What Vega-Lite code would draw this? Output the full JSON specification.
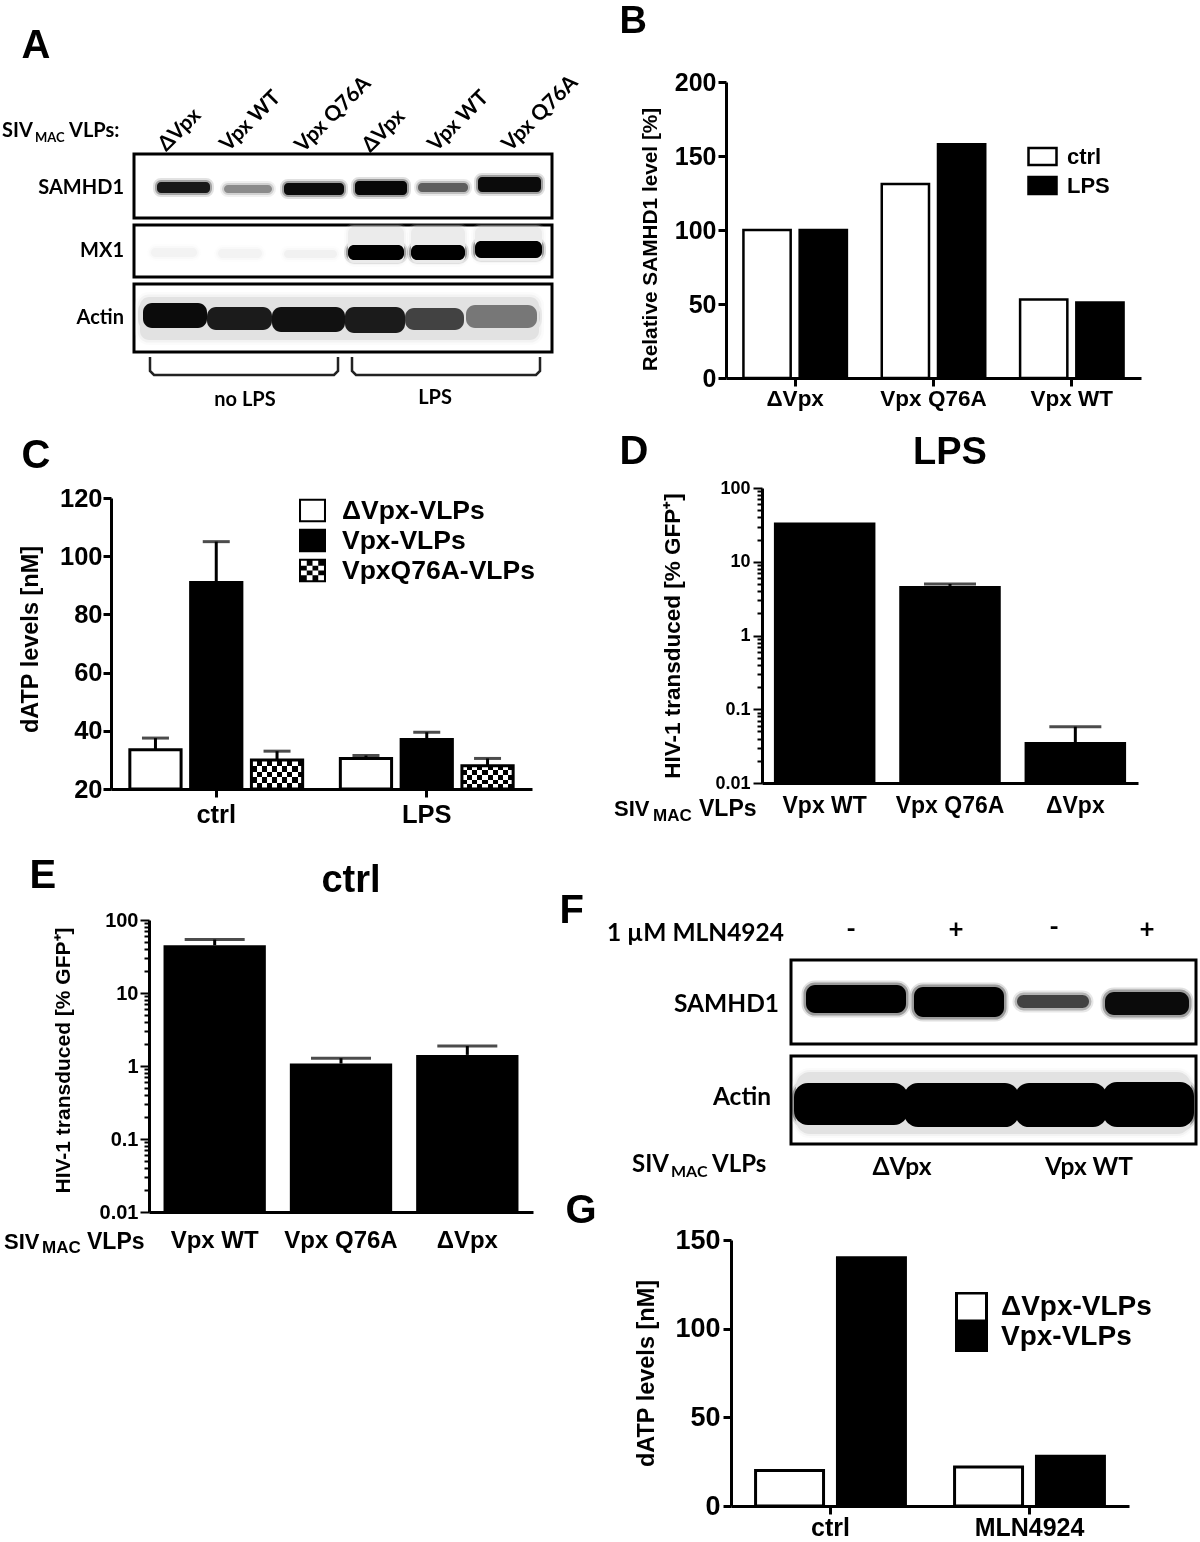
{"$schema":"https://vega.github.io/schema/vega-lite/v6.json","padding":{"left":2,"top":2,"right":0,"bottom":0},"background":"white","bounds":"flush","spacing":538,
"resolve":{"scale":{"xOffset":"independent","fill":"independent","stroke":"independent","shape":"independent"}},
"config":{"view":{"stroke":null},"font":"Liberation Sans","axis":{"grid":false,"domainColor":"black","tickColor":"black","labelColor":"black","titleColor":"black","domainWidth":3,"tickWidth":3,"tickSize":8,"labelFont":"Liberation Sans","titleFont":"Liberation Sans","labelFontWeight":"bold","titleFontWeight":"bold","labelPadding":3},"text":{"color":"black"}},
"datasets":{
"samhd1A":[{"x0":23,"x1":76,"y0":28,"y1":39,"signal":0.92},{"x0":90,"x1":138,"y0":31,"y1":39,"signal":0.42},{"x0":150,"x1":210,"y0":29,"y1":41,"signal":0.97},{"x0":221,"x1":273,"y0":27,"y1":41,"signal":0.98},{"x0":284,"x1":334,"y0":29,"y1":38,"signal":0.6},{"x0":344,"x1":407,"y0":23,"y1":38,"signal":0.97}],
"mx1A":[{"x0":214,"x1":270,"y0":2,"y1":38,"signal":0.07},{"x0":277,"x1":331,"y0":2,"y1":38,"signal":0.07},{"x0":341,"x1":408,"y0":2,"y1":36,"signal":0.07},{"x0":17,"x1":63,"y0":23,"y1":32,"signal":0.04},{"x0":84,"x1":128,"y0":24,"y1":33,"signal":0.04},{"x0":150,"x1":203,"y0":25,"y1":33,"signal":0.05},{"x0":214,"x1":270,"y0":20,"y1":35,"signal":1},{"x0":277,"x1":331,"y0":20,"y1":35,"signal":1},{"x0":341,"x1":408,"y0":16,"y1":33,"signal":1}],
"actinA":[{"x0":6,"x1":405,"y0":13,"y1":56,"signal":0.1},{"x0":9,"x1":73,"y0":19,"y1":44,"signal":0.97},{"x0":73,"x1":138,"y0":23,"y1":46,"signal":0.9},{"x0":138,"x1":211,"y0":23,"y1":48,"signal":0.95},{"x0":211,"x1":271,"y0":23,"y1":49,"signal":0.9},{"x0":271,"x1":330,"y0":24,"y1":46,"signal":0.72},{"x0":332,"x1":403,"y0":21,"y1":44,"signal":0.5}],
"samhd1F":[{"x0":15,"x1":115,"y0":25,"y1":53,"signal":1},{"x0":123,"x1":213,"y0":27,"y1":57,"signal":1},{"x0":226,"x1":298,"y0":35,"y1":48,"signal":0.72},{"x0":314,"x1":398,"y0":32,"y1":55,"signal":0.97}],
"actinF":[{"x0":5,"x1":400,"y0":16,"y1":78,"signal":0.1},{"x0":3,"x1":117,"y0":27,"y1":69,"signal":1},{"x0":113,"x1":228,"y0":27,"y1":71,"signal":1},{"x0":224,"x1":316,"y0":27,"y1":71,"signal":1},{"x0":312,"x1":403,"y0":26,"y1":71,"signal":1}]
},
"hconcat":[
{"bounds":"flush","spacing":838,"resolve":{"scale":{"xOffset":"independent","fill":"independent","stroke":"independent","shape":"independent"}},"vconcat":[
{"bounds":"flush","spacing":416,"resolve":{"scale":{"xOffset":"independent","fill":"independent","stroke":"independent","shape":"independent"}},"vconcat":[
{"bounds":"flush","spacing":112,"resolve":{"scale":{"xOffset":"independent","fill":"independent","stroke":"independent","shape":"independent"}},"hconcat":[
{"width":1,"height":1,"data":{"values":[{"t":"A"}]},"mark":{"type":"text","font":"Liberation Sans","fontWeight":"bold","fontSize":40,"align":"left","baseline":"middle","dx":0,"dy":-37},"encoding":{"text":{"field":"t"}}},
{"bounds":"flush","spacing":7,"resolve":{"scale":{"xOffset":"independent","fill":"independent","stroke":"independent","shape":"independent"}},"vconcat":[
{"width":418,"height":65,"layer":[
{"data":{"values":[{"t":"ΔVpx","x":28,"y":66},{"t":"Vpx WT","x":90,"y":66},{"t":"Vpx Q76A","x":165,"y":67},{"t":"ΔVpx","x":232,"y":67},{"t":"Vpx WT","x":298,"y":66},{"t":"Vpx Q76A","x":372,"y":66}]},"mark":{"type":"text","font":"Lato","fontWeight":"bold","fontSize":21,"angle":315,"align":"left","baseline":"middle"},"encoding":{"x":{"field":"x","type":"quantitative","scale":{"domain":[0,418],"nice":false,"zero":false},"axis":null},"y":{"field":"y","type":"quantitative","scale":{"domain":[65,0],"nice":false,"zero":false},"axis":null},"text":{"field":"t"}}},
{"data":{"values":[{"t":"SIV","x":-132,"y":49},{"t":"VLPs:","x":-65,"y":49}]},"mark":{"type":"text","font":"Lato","fontWeight":"bold","fontSize":20,"align":"left","baseline":"middle"},"encoding":{"x":{"field":"x","type":"quantitative"},"y":{"field":"y","type":"quantitative"},"text":{"field":"t"}}},
{"data":{"values":[{"t":"MAC","x":-99,"y":56}]},"mark":{"type":"text","font":"Lato","fontWeight":"bold","fontSize":13,"align":"left","baseline":"middle"},"encoding":{"x":{"field":"x","type":"quantitative"},"y":{"field":"y","type":"quantitative"},"text":{"field":"t"}}}
]},
{"width":418,"height":64,"view":{"stroke":"black","strokeWidth":3},"layer":[
{"data":{"name":"samhd1A"},"encoding":{"x":{"field":"x0","type":"quantitative","scale":{"domain":[0,418],"nice":false,"zero":false},"axis":null},"x2":{"field":"x1"},"y":{"field":"y0","type":"quantitative","scale":{"domain":[64,0],"nice":false,"zero":false},"axis":null},"y2":{"field":"y1"},"fill":{"field":"signal","type":"quantitative","scale":{"domain":[0,1],"range":["white","black"]},"legend":null},"stroke":{"field":"signal","type":"quantitative","scale":{"domain":[0,1],"range":["white","black"]},"legend":null}},"layer":[{"mark":{"type":"rect","cornerRadius":4,"opacity":0.12,"strokeWidth":8}},{"mark":{"type":"rect","cornerRadius":4,"opacity":0.3,"strokeWidth":4}},{"mark":{"type":"rect","cornerRadius":4,"strokeWidth":0}}]},
{"data":{"values":[{"t":"SAMHD1","x":-10,"y":34}]},"mark":{"type":"text","font":"Lato","fontWeight":"bold","fontSize":20,"align":"right","baseline":"middle"},"encoding":{"x":{"field":"x","type":"quantitative"},"y":{"field":"y","type":"quantitative"},"text":{"field":"t"}}}
]},
{"width":418,"height":52,"view":{"stroke":"black","strokeWidth":3},"layer":[
{"data":{"name":"mx1A"},"encoding":{"x":{"field":"x0","type":"quantitative","scale":{"domain":[0,418],"nice":false,"zero":false},"axis":null},"x2":{"field":"x1"},"y":{"field":"y0","type":"quantitative","scale":{"domain":[52,0],"nice":false,"zero":false},"axis":null},"y2":{"field":"y1"},"fill":{"field":"signal","type":"quantitative","scale":{"domain":[0,1],"range":["white","black"]},"legend":null},"stroke":{"field":"signal","type":"quantitative","scale":{"domain":[0,1],"range":["white","black"]},"legend":null}},"layer":[{"mark":{"type":"rect","cornerRadius":6,"opacity":0.12,"strokeWidth":8}},{"mark":{"type":"rect","cornerRadius":6,"opacity":0.3,"strokeWidth":4}},{"mark":{"type":"rect","cornerRadius":6,"strokeWidth":0}}]},
{"data":{"values":[{"t":"MX1","x":-10,"y":26}]},"mark":{"type":"text","font":"Lato","fontWeight":"bold","fontSize":20,"align":"right","baseline":"middle"},"encoding":{"x":{"field":"x","type":"quantitative"},"y":{"field":"y","type":"quantitative"},"text":{"field":"t"}}}
]},
{"width":418,"height":68,"view":{"stroke":"black","strokeWidth":3},"layer":[
{"data":{"name":"actinA"},"encoding":{"x":{"field":"x0","type":"quantitative","scale":{"domain":[0,418],"nice":false,"zero":false},"axis":null},"x2":{"field":"x1"},"y":{"field":"y0","type":"quantitative","scale":{"domain":[68,0],"nice":false,"zero":false},"axis":null},"y2":{"field":"y1"},"fill":{"field":"signal","type":"quantitative","scale":{"domain":[0,1],"range":["white","black"]},"legend":null},"stroke":{"field":"signal","type":"quantitative","scale":{"domain":[0,1],"range":["white","black"]},"legend":null}},"layer":[{"mark":{"type":"rect","cornerRadius":9,"opacity":0.12,"strokeWidth":10}},{"mark":{"type":"rect","cornerRadius":9,"opacity":0.3,"strokeWidth":5}},{"mark":{"type":"rect","cornerRadius":9,"strokeWidth":0}}]},
{"data":{"values":[{"t":"Actin","x":-10,"y":34}]},"mark":{"type":"text","font":"Lato","fontWeight":"bold","fontSize":20,"align":"right","baseline":"middle"},"encoding":{"x":{"field":"x","type":"quantitative"},"y":{"field":"y","type":"quantitative"},"text":{"field":"t"}}}
]},
{"width":418,"height":56,"layer":[
{"data":{"values":[{"g":"no LPS","i":1,"x":16,"y":-2},{"g":"no LPS","i":2,"x":16,"y":12},{"g":"no LPS","i":3,"x":20,"y":16},{"g":"no LPS","i":4,"x":200,"y":16},{"g":"no LPS","i":5,"x":204,"y":12},{"g":"no LPS","i":6,"x":204,"y":-2},{"g":"LPS","i":1,"x":218,"y":-2},{"g":"LPS","i":2,"x":218,"y":12},{"g":"LPS","i":3,"x":222,"y":16},{"g":"LPS","i":4,"x":402,"y":16},{"g":"LPS","i":5,"x":406,"y":12},{"g":"LPS","i":6,"x":406,"y":-2}]},"mark":{"type":"line","color":"#222","strokeWidth":2.5},"encoding":{"x":{"field":"x","type":"quantitative","scale":{"domain":[0,418],"nice":false,"zero":false},"axis":null},"y":{"field":"y","type":"quantitative","scale":{"domain":[56,0],"nice":false,"zero":false},"axis":null},"detail":{"field":"g"},"order":{"field":"i"}}},
{"data":{"values":[{"t":"no LPS","x":111,"y":41},{"t":"LPS","x":301,"y":39}]},"mark":{"type":"text","font":"Lato","fontWeight":"bold","fontSize":20,"align":"center","baseline":"middle"},"encoding":{"x":{"field":"x","type":"quantitative"},"y":{"field":"y","type":"quantitative"},"text":{"field":"t"}}}
]}
]}
]},
{"bounds":"flush","spacing":90,"resolve":{"scale":{"xOffset":"independent","fill":"independent","stroke":"independent","shape":"independent"}},"hconcat":[
{"bounds":"flush","spacing":89,"resolve":{"scale":{"xOffset":"independent","fill":"independent","stroke":"independent","shape":"independent"}},"hconcat":[
{"width":1,"height":1,"data":{"values":[{"t":"C"}]},"mark":{"type":"text","font":"Liberation Sans","fontWeight":"bold","fontSize":40,"align":"left","baseline":"middle","dy":-43},"encoding":{"text":{"field":"t"}}},
{"width":421,"height":291,
"data":{"values":[{"state":"ctrl","series":"ΔVpx-VLPs","level":33.5,"upper":37.5},{"state":"ctrl","series":"Vpx-VLPs","level":91,"upper":105},{"state":"ctrl","series":"VpxQ76A-VLPs","level":30,"upper":33},{"state":"LPS","series":"ΔVpx-VLPs","level":30.5,"upper":31.5},{"state":"LPS","series":"Vpx-VLPs","level":37,"upper":39.5},{"state":"LPS","series":"VpxQ76A-VLPs","level":28,"upper":30.5}]},
"layer":[
{"mark":{"type":"bar"},"encoding":{"x":{"field":"state","type":"nominal","scale":{"domain":["ctrl","LPS"],"paddingInner":0,"paddingOuter":0},"axis":{"title":null,"labelAngle":0,"labelFontSize":25.5,"labelPadding":5}},"xOffset":{"field":"series","type":"nominal","scale":{"domain":["ΔVpx-VLPs","Vpx-VLPs","VpxQ76A-VLPs"],"paddingInner":0.157,"paddingOuter":0.31}},"y":{"field":"level","type":"quantitative","stack":null,"scale":{"domain":[20,120],"nice":false,"zero":false,"clamp":true},"axis":{"title":"dATP levels [nM]","titleY":141,"values":[20,40,60,80,100,120],"labelFontSize":25.5,"labelPadding":1,"titleFontSize":23.5,"titlePadding":17}},"fill":{"field":"series","type":"nominal","scale":{"domain":["ΔVpx-VLPs","Vpx-VLPs","VpxQ76A-VLPs"],"range":["white","black","white"]},"legend":null}}},
{"transform":[{"filter":"datum.series==='VpxQ76A-VLPs'"}],"mark":{"type":"bar","color":{"gradient":"linear","x1":0,"y1":0,"x2":1,"y2":0,"stops":[{"offset":0,"color":"black"},{"offset":0.1,"color":"black"},{"offset":0.1,"color":"white"},{"offset":0.2,"color":"white"},{"offset":0.2,"color":"black"},{"offset":0.3,"color":"black"},{"offset":0.3,"color":"white"},{"offset":0.4,"color":"white"},{"offset":0.4,"color":"black"},{"offset":0.5,"color":"black"},{"offset":0.5,"color":"white"},{"offset":0.6,"color":"white"},{"offset":0.6,"color":"black"},{"offset":0.7,"color":"black"},{"offset":0.7,"color":"white"},{"offset":0.8,"color":"white"},{"offset":0.8,"color":"black"},{"offset":0.9,"color":"black"},{"offset":0.9,"color":"white"},{"offset":1,"color":"white"}]}},"encoding":{"x":{"field":"state","type":"nominal"},"xOffset":{"field":"series","type":"nominal"},"y":{"field":"level","type":"quantitative","stack":null}}},
{"transform":[{"filter":"datum.series==='VpxQ76A-VLPs'"}],"mark":{"type":"bar","blend":"difference","color":{"gradient":"linear","x1":0,"y1":0,"x2":0,"y2":1,"stops":[{"offset":0,"color":"white"},{"offset":0.2,"color":"white"},{"offset":0.2,"color":"rgba(255,255,255,0)"},{"offset":0.4,"color":"rgba(255,255,255,0)"},{"offset":0.4,"color":"white"},{"offset":0.6,"color":"white"},{"offset":0.6,"color":"rgba(255,255,255,0)"},{"offset":0.8,"color":"rgba(255,255,255,0)"},{"offset":0.8,"color":"white"},{"offset":1,"color":"white"}]}},"encoding":{"x":{"field":"state","type":"nominal"},"xOffset":{"field":"series","type":"nominal"},"y":{"field":"level","type":"quantitative","stack":null}}},
{"mark":{"type":"bar","fillOpacity":0,"stroke":"black","strokeWidth":3},"encoding":{"x":{"field":"state","type":"nominal"},"xOffset":{"field":"series","type":"nominal"},"y":{"field":"level","type":"quantitative","stack":null}}},
{"mark":{"type":"rule","color":"black","strokeWidth":3},"encoding":{"x":{"field":"state","type":"nominal"},"xOffset":{"field":"series","type":"nominal"},"y":{"field":"level","type":"quantitative"},"y2":{"field":"upper"}}},
{"mark":{"type":"tick","color":"black","thickness":3,"size":27},"encoding":{"x":{"field":"state","type":"nominal"},"xOffset":{"field":"series","type":"nominal"},"y":{"field":"upper","type":"quantitative"}}}
]}
]},
{"width":1,"height":1,"data":{"values":[{"series":"ΔVpx-VLPs"},{"series":"Vpx-VLPs"},{"series":"VpxQ76A-VLPs"}]},"mark":{"type":"point","filled":true,"color":"black","opacity":0,"size":1},"encoding":{"shape":{"field":"series","type":"nominal","scale":{"domain":["ΔVpx-VLPs","Vpx-VLPs","VpxQ76A-VLPs"],"range":["M-1,-0.87H1V0.87H-1ZM-0.85,-0.72V0.72H0.85V-0.72Z","M-1,-0.87H1V0.87H-1Z","M-1,-0.87H1V0.87H-1ZM-0.85,-0.72V-0.36H-0.425V-0.72ZM0,-0.72V-0.36H0.425V-0.72ZM-0.425,-0.36V0H0V-0.36ZM0.425,-0.36V0H0.85V-0.36ZM-0.85,0V0.36H-0.425V0ZM0,0V0.36H0.425V0ZM-0.425,0.36V0.72H0V0.36ZM0.425,0.36V0.72H0.85V0.36Z"]},"legend":{"orient":"none","legendX":188,"legendY":-1,"title":null,"symbolSize":729,"symbolOpacity":1,"symbolFillColor":"black","symbolStrokeWidth":0,"labelFont":"Liberation Sans","labelFontWeight":"bold","labelFontSize":26.5,"labelColor":"black","labelOffset":16,"labelLimit":300,"rowPadding":3}}}}
]}
]},
{"bounds":"flush","spacing":127,"resolve":{"scale":{"xOffset":"independent","fill":"independent","stroke":"independent","shape":"independent"}},"hconcat":[
{"width":1,"height":1,"data":{"values":[{"t":"E"}]},"mark":{"type":"text","font":"Liberation Sans","fontWeight":"bold","fontSize":40,"align":"left","baseline":"middle","dx":8,"dy":-45},"encoding":{"text":{"field":"t"}}},
{"width":384,"height":292,"title":{"text":"ctrl","fontSize":38,"font":"Liberation Sans","fontWeight":"bold","color":"black","offset":10,"dx":10},
"layer":[
{"data":{"values":[{"vector":"Vpx WT","pct":45,"upper":54},{"vector":"Vpx Q76A","pct":1.08,"upper":1.28},{"vector":"ΔVpx","pct":1.42,"upper":1.88}]},"mark":{"type":"bar","color":"black"},"encoding":{"x":{"field":"vector","type":"nominal","scale":{"domain":["Vpx WT","Vpx Q76A","ΔVpx"],"paddingInner":0.19,"paddingOuter":0.115},"axis":{"title":null,"labelAngle":0,"labelFontSize":24,"labelPadding":16,"ticks":false}},"y":{"field":"pct","type":"quantitative","stack":null,"scale":{"type":"log","domain":[0.01,100],"nice":false},"axis":{"title":"HIV-1 transduced [% GFP⁺]","titleY":140,"values":[0.01,0.02,0.03,0.04,0.05,0.06,0.07,0.08,0.09,0.1,0.2,0.3,0.4,0.5,0.6,0.7,0.8,0.9,1,2,3,4,5,6,7,8,9,10,20,30,40,50,60,70,80,90,100],"labelExpr":"indexof([0.01,0.1,1,10,100],datum.value)>=0?''+datum.value:''","tickSize":{"condition":{"test":"indexof([0.01,0.1,1,10,100],datum.value)>=0","value":9},"value":5},"tickWidth":2,"labelFontSize":20,"labelPadding":2,"titleFontSize":21,"titlePadding":26}}}},
{"data":{"values":[{"vector":"Vpx WT","pct":45,"upper":54},{"vector":"Vpx Q76A","pct":1.08,"upper":1.28},{"vector":"ΔVpx","pct":1.42,"upper":1.88}]},"mark":{"type":"rule","color":"black","strokeWidth":3},"encoding":{"x":{"field":"vector","type":"nominal"},"y":{"field":"pct","type":"quantitative"},"y2":{"field":"upper"}}},
{"data":{"values":[{"vector":"Vpx WT","upper":54},{"vector":"Vpx Q76A","upper":1.28},{"vector":"ΔVpx","upper":1.88}]},"mark":{"type":"tick","color":"black","thickness":3,"size":60},"encoding":{"x":{"field":"vector","type":"nominal"},"y":{"field":"upper","type":"quantitative"}}},
{"data":{"values":[{"t":"SIV"}]},"mark":{"type":"text","font":"Liberation Sans","fontWeight":"bold","fontSize":22,"align":"left","baseline":"middle","dx":-337,"dy":176},"encoding":{"text":{"field":"t"}}},
{"data":{"values":[{"t":"MAC"}]},"mark":{"type":"text","font":"Liberation Sans","fontWeight":"bold","fontSize":17,"align":"left","baseline":"middle","dx":-299,"dy":182},"encoding":{"text":{"field":"t"}}},
{"data":{"values":[{"t":"VLPs"}]},"mark":{"type":"text","font":"Liberation Sans","fontWeight":"bold","fontSize":23,"align":"left","baseline":"middle","dx":-254,"dy":176},"encoding":{"text":{"field":"t"}}}
]}
]}
]},
{"bounds":"flush","spacing":1158,"resolve":{"scale":{"xOffset":"independent","fill":"independent","stroke":"independent","shape":"independent"}},"vconcat":[
{"bounds":"flush","spacing":878,"resolve":{"scale":{"xOffset":"independent","fill":"independent","stroke":"independent","shape":"independent"}},"vconcat":[
{"bounds":"flush","spacing":406,"resolve":{"scale":{"xOffset":"independent","fill":"independent","stroke":"independent","shape":"independent"}},"vconcat":[
{"bounds":"flush","spacing":166,"resolve":{"scale":{"xOffset":"independent","fill":"independent","stroke":"independent","shape":"independent"}},"hconcat":[
{"width":1,"height":1,"data":{"values":[{"t":"B"}]},"mark":{"type":"text","font":"Liberation Sans","fontWeight":"bold","fontSize":38,"align":"left","baseline":"middle","dx":60,"dy":-61},"encoding":{"text":{"field":"t"}}},
{"width":415,"height":296,"data":{"values":[{"vector":"ΔVpx","state":"ctrl","level":100},{"vector":"ΔVpx","state":"LPS","level":100},{"vector":"Vpx Q76A","state":"ctrl","level":131},{"vector":"Vpx Q76A","state":"LPS","level":158},{"vector":"Vpx WT","state":"ctrl","level":53},{"vector":"Vpx WT","state":"LPS","level":51}]},"mark":{"type":"bar","stroke":"black","strokeWidth":2.5},"encoding":{"x":{"field":"vector","type":"nominal","scale":{"domain":["ΔVpx","Vpx Q76A","Vpx WT"],"paddingInner":0,"paddingOuter":0},"axis":{"title":null,"labelAngle":0,"labelFontSize":22.5,"labelPadding":1}},"xOffset":{"field":"state","type":"nominal","scale":{"domain":["ctrl","LPS"],"paddingInner":0.16,"paddingOuter":0.31}},"y":{"field":"level","type":"quantitative","stack":null,"scale":{"domain":[0,200],"nice":false},"axis":{"title":"Relative SAMHD1 level [%]","titleY":157,"values":[0,50,100,150,200],"labelFontSize":25,"labelPadding":2,"titleFontSize":20.8,"titlePadding":14}},"fill":{"field":"state","type":"nominal","scale":{"domain":["ctrl","LPS"],"range":["white","black"]},"legend":{"orient":"none","legendX":301,"legendY":59,"title":null,"symbolType":"M-1,-0.6H1V0.6H-1Z","symbolSize":784,"symbolStrokeColor":"black","symbolStrokeWidth":2.5,"labelFont":"Liberation Sans","labelFontWeight":"bold","labelFontSize":22,"labelColor":"black","labelOffset":9,"rowPadding":0}}}}
]},
{"bounds":"flush","spacing":202,"resolve":{"scale":{"xOffset":"independent","fill":"independent","stroke":"independent","shape":"independent"}},"hconcat":[
{"width":1,"height":1,"data":{"values":[{"t":"D"}]},"mark":{"type":"text","font":"Liberation Sans","fontWeight":"bold","fontSize":40,"align":"left","baseline":"middle","dx":60,"dy":-37},"encoding":{"text":{"field":"t"}}},
{"width":376,"height":295,"title":{"text":"LPS","fontSize":38,"font":"Liberation Sans","fontWeight":"bold","color":"black","offset":7},
"layer":[
{"data":{"values":[{"vector":"Vpx WT","pct":34,"upper":34},{"vector":"Vpx Q76A","pct":4.7,"upper":5},{"vector":"ΔVpx","pct":0.036,"upper":0.058}]},"mark":{"type":"bar","color":"black"},"encoding":{"x":{"field":"vector","type":"nominal","scale":{"domain":["Vpx WT","Vpx Q76A","ΔVpx"],"paddingInner":0.19,"paddingOuter":0.095},"axis":{"title":null,"labelAngle":0,"labelFontSize":23,"labelPadding":11,"ticks":false}},"y":{"field":"pct","type":"quantitative","stack":null,"scale":{"type":"log","domain":[0.01,100],"nice":false},"axis":{"title":"HIV-1 transduced [% GFP⁺]","values":[0.01,0.02,0.03,0.04,0.05,0.06,0.07,0.08,0.09,0.1,0.2,0.3,0.4,0.5,0.6,0.7,0.8,0.9,1,2,3,4,5,6,7,8,9,10,20,30,40,50,60,70,80,90,100],"labelExpr":"indexof([0.01,0.1,1,10,100],datum.value)>=0?''+datum.value:''","tickSize":{"condition":{"test":"indexof([0.01,0.1,1,10,100],datum.value)>=0","value":9},"value":5},"tickWidth":2,"labelFontSize":18,"titleFontSize":22.5,"titlePadding":30}}}},
{"data":{"values":[{"vector":"Vpx WT","pct":34,"upper":34},{"vector":"Vpx Q76A","pct":4.7,"upper":5},{"vector":"ΔVpx","pct":0.036,"upper":0.058}]},"mark":{"type":"rule","color":"black","strokeWidth":3},"encoding":{"x":{"field":"vector","type":"nominal"},"y":{"field":"pct","type":"quantitative"},"y2":{"field":"upper"}}},
{"data":{"values":[{"vector":"Vpx Q76A","upper":5},{"vector":"ΔVpx","upper":0.058}]},"mark":{"type":"tick","color":"black","thickness":3,"size":52},"encoding":{"x":{"field":"vector","type":"nominal"},"y":{"field":"upper","type":"quantitative"}}},
{"data":{"values":[{"t":"SIV"}]},"mark":{"type":"text","font":"Liberation Sans","fontWeight":"bold","fontSize":22,"align":"left","baseline":"middle","dx":-336,"dy":173},"encoding":{"text":{"field":"t"}}},
{"data":{"values":[{"t":"MAC"}]},"mark":{"type":"text","font":"Liberation Sans","fontWeight":"bold","fontSize":17,"align":"left","baseline":"middle","dx":-297,"dy":180},"encoding":{"text":{"field":"t"}}},
{"data":{"values":[{"t":"VLPs"}]},"mark":{"type":"text","font":"Liberation Sans","fontWeight":"bold","fontSize":23,"align":"left","baseline":"middle","dx":-251,"dy":173},"encoding":{"text":{"field":"t"}}}
]}
]}
]},
{"bounds":"flush","spacing":231,"resolve":{"scale":{"xOffset":"independent","fill":"independent","stroke":"independent","shape":"independent"}},"hconcat":[
{"width":1,"height":1,"data":{"values":[{"t":"F"}]},"mark":{"type":"text","font":"Liberation Sans","fontWeight":"bold","fontSize":40,"align":"left","baseline":"middle","dx":0,"dy":-50},"encoding":{"text":{"field":"t"}}},
{"bounds":"flush","spacing":12,"resolve":{"scale":{"xOffset":"independent","fill":"independent","stroke":"independent","shape":"independent"}},"vconcat":[
{"width":405,"height":84,"view":{"stroke":"black","strokeWidth":3},"layer":[
{"data":{"name":"samhd1F"},"encoding":{"x":{"field":"x0","type":"quantitative","scale":{"domain":[0,405],"nice":false,"zero":false},"axis":null},"x2":{"field":"x1"},"y":{"field":"y0","type":"quantitative","scale":{"domain":[84,0],"nice":false,"zero":false},"axis":null},"y2":{"field":"y1"},"fill":{"field":"signal","type":"quantitative","scale":{"domain":[0,1],"range":["white","black"]},"legend":null},"stroke":{"field":"signal","type":"quantitative","scale":{"domain":[0,1],"range":["white","black"]},"legend":null}},"layer":[{"mark":{"type":"rect","cornerRadius":9,"opacity":0.12,"strokeWidth":9}},{"mark":{"type":"rect","cornerRadius":9,"opacity":0.3,"strokeWidth":5}},{"mark":{"type":"rect","cornerRadius":9,"strokeWidth":0}}]},
{"data":{"values":[{"t":"SAMHD1","x":-12,"y":45},{"t":"1 µM MLN4924","x":-7,"y":-26}]},"mark":{"type":"text","font":"Lato","fontWeight":"bold","fontSize":24.5,"align":"right","baseline":"middle"},"encoding":{"x":{"field":"x","type":"quantitative"},"y":{"field":"y","type":"quantitative"},"text":{"field":"t"}}},
{"data":{"values":[{"t":"-","x":60,"y":-30},{"t":"+","x":165,"y":-30},{"t":"-","x":263,"y":-32},{"t":"+","x":356,"y":-30}]},"mark":{"type":"text","font":"Lato","fontWeight":"bold","fontSize":26,"align":"center","baseline":"middle"},"encoding":{"x":{"field":"x","type":"quantitative"},"y":{"field":"y","type":"quantitative"},"text":{"field":"t"}}}
]},
{"width":405,"height":88,"view":{"stroke":"black","strokeWidth":3},"layer":[
{"data":{"name":"actinF"},"encoding":{"x":{"field":"x0","type":"quantitative","scale":{"domain":[0,405],"nice":false,"zero":false},"axis":null},"x2":{"field":"x1"},"y":{"field":"y0","type":"quantitative","scale":{"domain":[88,0],"nice":false,"zero":false},"axis":null},"y2":{"field":"y1"},"fill":{"field":"signal","type":"quantitative","scale":{"domain":[0,1],"range":["white","black"]},"legend":null},"stroke":{"field":"signal","type":"quantitative","scale":{"domain":[0,1],"range":["white","black"]},"legend":null}},"layer":[{"mark":{"type":"rect","cornerRadius":14,"opacity":0.12,"strokeWidth":8}},{"mark":{"type":"rect","cornerRadius":14,"opacity":0.3,"strokeWidth":4}},{"mark":{"type":"rect","cornerRadius":14,"strokeWidth":0}}]},
{"data":{"values":[{"t":"Actin","x":-20,"y":42}]},"mark":{"type":"text","font":"Lato","fontWeight":"bold","fontSize":24.5,"align":"right","baseline":"middle"},"encoding":{"x":{"field":"x","type":"quantitative"},"y":{"field":"y","type":"quantitative"},"text":{"field":"t"}}},
{"data":{"values":[{"t":"ΔVpx","x":111,"y":112},{"t":"Vpx WT","x":298,"y":112}]},"mark":{"type":"text","font":"Lato","fontWeight":"bold","fontSize":24.5,"align":"center","baseline":"middle"},"encoding":{"x":{"field":"x","type":"quantitative"},"y":{"field":"y","type":"quantitative"},"text":{"field":"t"}}},
{"data":{"values":[{"t":"SIV","x":-159,"y":109},{"t":"VLPs","x":-79,"y":109}]},"mark":{"type":"text","font":"Lato","fontWeight":"bold","fontSize":24,"align":"left","baseline":"middle"},"encoding":{"x":{"field":"x","type":"quantitative"},"y":{"field":"y","type":"quantitative"},"text":{"field":"t"}}},
{"data":{"values":[{"t":"MAC","x":-120,"y":116}]},"mark":{"type":"text","font":"Lato","fontWeight":"bold","fontSize":16,"align":"left","baseline":"middle"},"encoding":{"x":{"field":"x","type":"quantitative"},"y":{"field":"y","type":"quantitative"},"text":{"field":"t"}}}
]}
]}
]}
]},
{"bounds":"flush","spacing":171,"resolve":{"scale":{"xOffset":"independent","fill":"independent","stroke":"independent","shape":"independent"}},"hconcat":[
{"width":1,"height":1,"data":{"values":[{"t":"G"}]},"mark":{"type":"text","font":"Liberation Sans","fontWeight":"bold","fontSize":40,"align":"left","baseline":"middle","dx":6,"dy":-30},"encoding":{"text":{"field":"t"}}},
{"width":398,"height":266,"data":{"values":[{"drug":"ctrl","series":"ΔVpx-VLPs","level":20},{"drug":"ctrl","series":"Vpx-VLPs","level":140},{"drug":"MLN4924","series":"ΔVpx-VLPs","level":22},{"drug":"MLN4924","series":"Vpx-VLPs","level":28}]},"mark":{"type":"bar","stroke":"black","strokeWidth":3},"encoding":{"x":{"field":"drug","type":"nominal","scale":{"domain":["ctrl","MLN4924"],"paddingInner":0,"paddingOuter":0},"axis":{"title":null,"labelAngle":0,"labelFontSize":25,"labelPadding":1}},"xOffset":{"field":"series","type":"nominal","scale":{"domain":["ΔVpx-VLPs","Vpx-VLPs"],"paddingInner":0.17,"paddingOuter":0.3}},"y":{"field":"level","type":"quantitative","stack":null,"scale":{"domain":[0,150],"nice":false},"axis":{"title":"dATP levels [nM]","values":[0,50,100,150],"labelFontSize":27,"titleFontSize":23.5,"titlePadding":16}},"fill":{"field":"series","type":"nominal","scale":{"domain":["ΔVpx-VLPs","Vpx-VLPs"],"range":["white","black"]},"legend":{"orient":"none","legendX":224,"legendY":52,"title":null,"symbolType":"M-1,-0.93H1V0.93H-1Z","symbolSize":900,"symbolStrokeColor":"black","symbolStrokeWidth":3,"labelFont":"Liberation Sans","labelFontWeight":"bold","labelFontSize":28,"labelColor":"black","labelOffset":13,"clipHeight":30,"rowPadding":0}}}}
]}
]}
]}
